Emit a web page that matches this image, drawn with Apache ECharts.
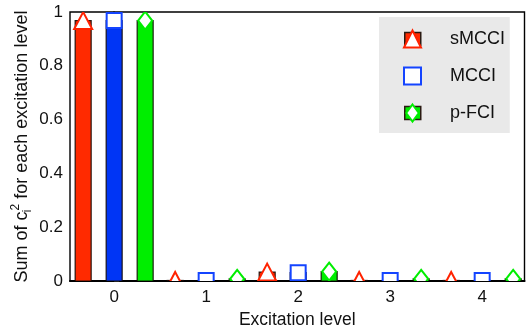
<!DOCTYPE html>
<html>
<head>
<meta charset="utf-8">
<script src="https://cdn.jsdelivr.net/npm/echarts@6/dist/echarts.min.js"></script>
<style>
  html, body { margin: 0; padding: 0; background: #fff; }
  #chart { width: 527px; height: 327px; }
</style>
</head>
<body>
<div id="chart"></div>
<script>
// Excitation levels on the x axis
const levels = [0, 1, 2, 3, 4];
// Sum of c_i^2 per excitation level for each method
const sMCCI = [0.968, 0.002, 0.033, 0.002, 0.002];
const MCCI  = [0.968, 0.002, 0.031, 0.002, 0.002];
const pFCI  = [0.968, 0.008, 0.035, 0.008, 0.008];
const yTicks = [0, 0.2, 0.4, 0.6, 0.8, 1];

const FONT = '"Liberation Sans", Arial, Helvetica, sans-serif';

const methods = [
  { name: 'sMCCI', values: sMCCI, offset: -31, bar: '#ff2a00', edge: '#ff2200', marker: 'triangle' },
  { name: 'MCCI',  values: MCCI,  offset: 0,   bar: '#0035f5', edge: '#1444ff', marker: 'square' },
  { name: 'p-FCI', values: pFCI,  offset: 31,  bar: '#00ee00', edge: '#00ee00', marker: 'diamond' }
];

// marker outline in pixel space around (cx, cy)
function markerPoints(kind, cx, cy) {
  if (kind === 'triangle') {
    const w = 18, h = 17;
    return [[cx, cy - h / 2], [cx + w / 2, cy + h / 2], [cx - w / 2, cy + h / 2]];
  }
  if (kind === 'square') {
    const s = 15;
    return [[cx - s / 2, cy - s / 2], [cx + s / 2, cy - s / 2], [cx + s / 2, cy + s / 2], [cx - s / 2, cy + s / 2]];
  }
  const w = 14, h = 18;
  return [[cx, cy - h / 2], [cx + w / 2, cy], [cx, cy + h / 2], [cx - w / 2, cy]];
}

function makeSeries(m) {
  return {
    type: 'custom',
    name: m.name,
    clip: true,
    data: levels.map((lv, i) => [lv, m.values[i]]),
    encode: { x: 0, y: 1 },
    itemStyle: { color: m.bar },
    renderItem: function (params, api) {
      const top = api.coord([api.value(0), api.value(1)]);
      const base = api.coord([api.value(0), 0]);
      const cx = top[0] + m.offset;
      return {
        type: 'group',
        children: [
          {
            type: 'rect',
            shape: { x: cx - 8, y: top[1], width: 16, height: base[1] - top[1] },
            style: { fill: m.bar, stroke: 'rgba(20,10,5,0.9)', lineWidth: 1.2 }
          },
          {
            type: 'polygon',
            shape: { points: markerPoints(m.marker, cx, top[1]) },
            style: { fill: '#ffffff', stroke: m.edge, lineWidth: 2 }
          }
        ]
      };
    }
  };
}

const chart = echarts.init(document.getElementById('chart'), null, { renderer: 'canvas' });

const legendText = { fontFamily: FONT, fontSize: 18, lineHeight: 20, padding: [0, 0, 0, 24] };

chart.setOption({
  animation: false,
  backgroundColor: '#ffffff',
  grid: {
    left: 70, right: 2.5, top: 12, bottom: 46,
    outerBoundsMode: 'none',
    show: true, borderColor: '#000', borderWidth: 1.4, containLabel: false
  },
  legend: [
    {
      // bar swatches and the grey box, drawn under the marker legend
      z: 4,
      selectedMode: false,
      orient: 'vertical',
      left: 379, top: 17,
      padding: [12, 5, 10, 25],
      backgroundColor: '#e9e9e9',
      itemWidth: 16, itemHeight: 13, itemGap: 17,
      icon: 'rect',
      textStyle: Object.assign({}, legendText, { color: 'rgba(0,0,0,0)' }),
      data: methods.map(m => ({
        name: m.name,
        itemStyle: { color: m.bar, borderColor: '#2a1a12', borderWidth: 1.5 }
      }))
    },
    {
      z: 5,
      selectedMode: false,
      orient: 'vertical',
      left: 379, top: 17,
      padding: [12, 0, 10, 24],
      itemWidth: 17, itemHeight: 17, itemGap: 17,
      textStyle: Object.assign({}, legendText, { color: '#111' }),
      data: methods.map(m => ({
        name: m.name,
        icon: m.marker === 'triangle' ? 'triangle'
            : m.marker === 'square' ? 'rect'
            : 'path://M7,0L14,9.5L7,19L0,9.5Z',
        itemStyle: { color: '#ffffff', borderColor: m.edge, borderWidth: 2 }
      }))
    }
  ],
  xAxis: {
    type: 'value',
    min: -0.48, max: 4.46,
    splitNumber: 5,
    name: 'Excitation level',
    nameLocation: 'middle',
    nameGap: 26,
    nameTextStyle: { fontFamily: FONT, fontSize: 17.5, color: '#111' },
    axisLine: { show: true, onZero: false, lineStyle: { color: '#000', width: 2 } },
    axisTick: { show: false },
    splitLine: { show: false },
    axisLabel: {
      fontFamily: FONT, fontSize: 17, color: '#111', margin: 8,
      showMinLabel: false, showMaxLabel: false,
      formatter: v => (levels.indexOf(v) >= 0 ? String(v) : '')
    }
  },
  yAxis: {
    type: 'value',
    min: yTicks[0], max: yTicks[yTicks.length - 1], interval: 0.2,
    name: 'Sum of c{s|i}{p|2} for each excitation level',
    nameLocation: 'middle',
    nameGap: 36,
    nameMoveOverlap: false,
    nameTextStyle: {
      fontFamily: FONT, fontSize: 18, color: '#111', lineHeight: 24,
      rich: {
        s: { fontFamily: FONT, fontSize: 12, color: '#111', verticalAlign: 'bottom', lineHeight: 13, width: 1 },
        p: { fontFamily: FONT, fontSize: 12, color: '#111', verticalAlign: 'top', lineHeight: 13 }
      }
    },
    axisLine: { show: true, lineStyle: { color: '#000', width: 1.5 } },
    axisTick: { show: true, inside: true, length: 5, lineStyle: { color: '#222', width: 1 } },
    minorTick: { show: true, splitNumber: 4, length: 5, lineStyle: { color: '#222', width: 1 } },
    splitLine: { show: false },
    axisLabel: {
      fontFamily: FONT, fontSize: 17, color: '#111', margin: 7,
      formatter: v => (yTicks.some(t => Math.abs(t - v) < 1e-9) ? String(+v.toFixed(1)) : '')
    }
  },
  series: methods.map(makeSeries)
});
</script>
</body>
</html>
